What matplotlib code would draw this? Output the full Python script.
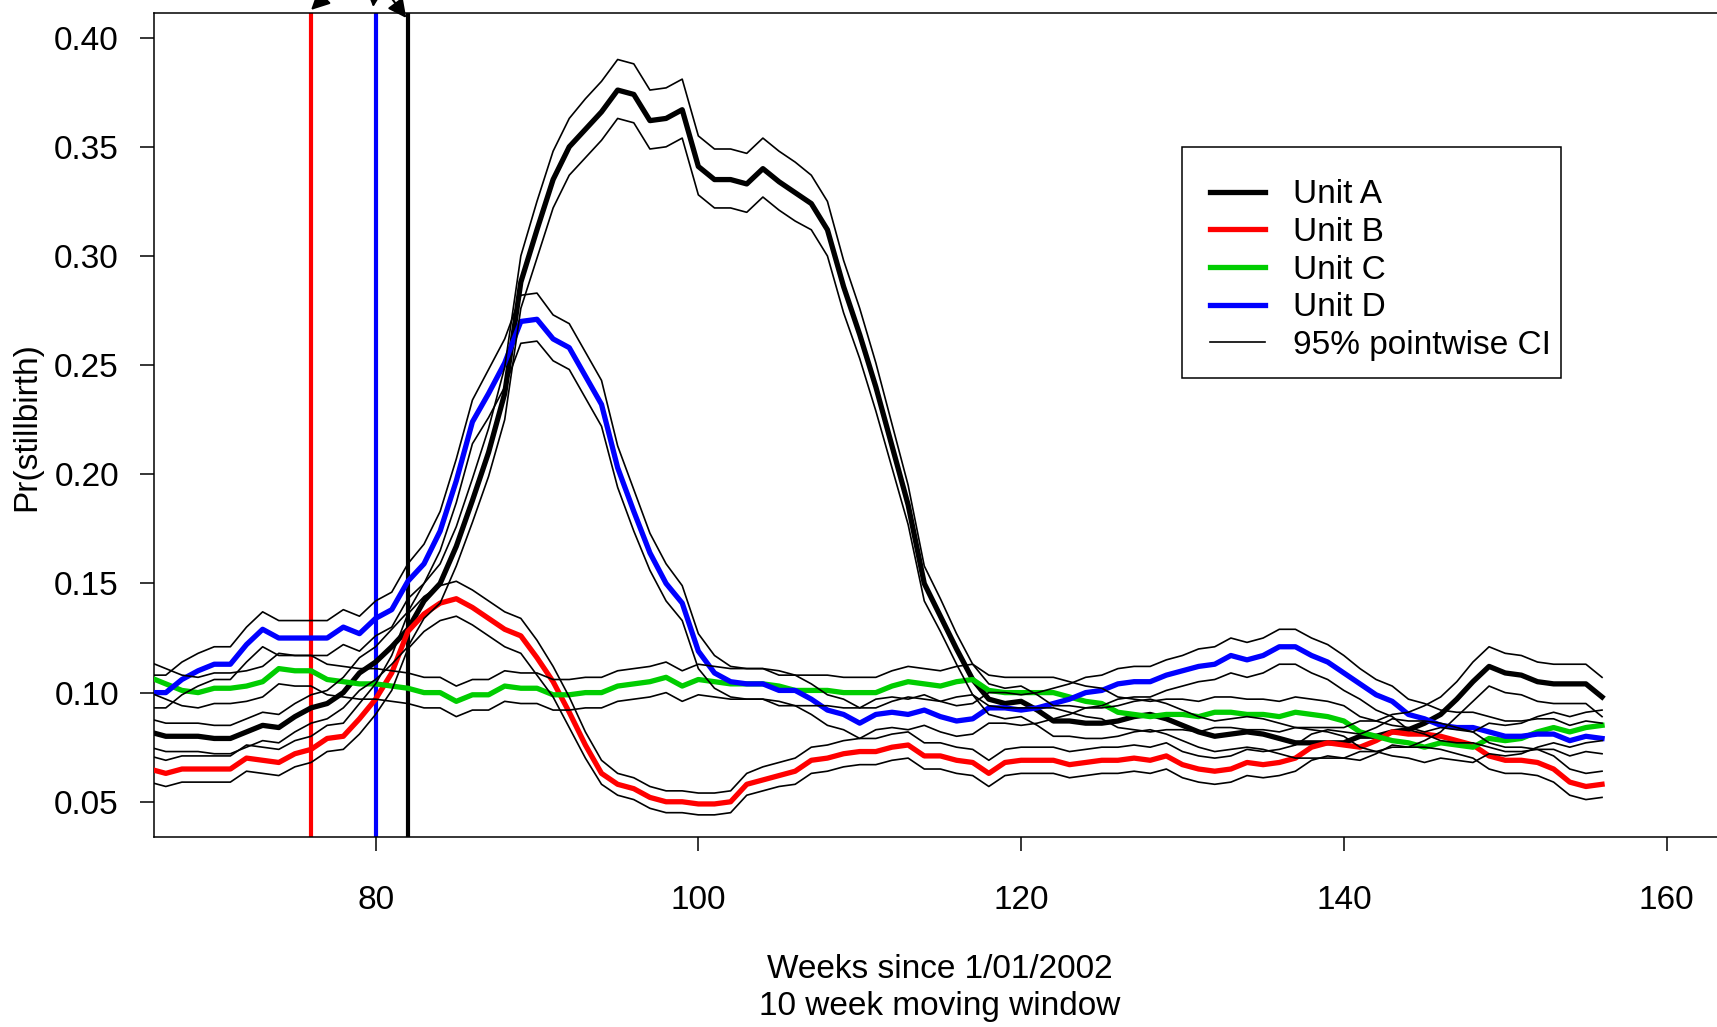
import matplotlib
matplotlib.use("Agg")
import matplotlib.pyplot as plt
from matplotlib.lines import Line2D
from matplotlib.patches import Rectangle

plt.rcParams['font.family'] = ['Liberation Sans', 'DejaVu Sans']

weeks = list(range(66, 157))

# Unit A (estimate, upper and lower 95% limits)
unit_a = [0.082, 0.080, 0.080, 0.080, 0.079, 0.079, 0.082, 0.085, 0.084, 0.089,
          0.093, 0.095, 0.100, 0.109, 0.114, 0.121, 0.129, 0.142, 0.150, 0.167,
          0.188, 0.210, 0.237, 0.288, 0.312, 0.335, 0.350, 0.358, 0.366, 0.376,
          0.374, 0.362, 0.363, 0.367, 0.341, 0.335, 0.335, 0.333, 0.340, 0.334,
          0.329, 0.324, 0.312, 0.286, 0.264, 0.240, 0.213, 0.186, 0.150, 0.135,
          0.120, 0.106, 0.097, 0.095, 0.096, 0.092, 0.087, 0.087, 0.086, 0.086,
          0.087, 0.089, 0.090, 0.088, 0.085, 0.082, 0.080, 0.081, 0.082, 0.081,
          0.079, 0.077, 0.077, 0.077, 0.077, 0.080, 0.080, 0.082, 0.083, 0.086,
          0.090, 0.097, 0.105, 0.112, 0.109, 0.108, 0.105, 0.104, 0.104, 0.104,
          0.098]
unit_a_hi = [0.088, 0.086, 0.086, 0.086, 0.085, 0.085, 0.088, 0.091, 0.090, 0.095,
             0.099, 0.101, 0.107, 0.116, 0.121, 0.129, 0.137, 0.150, 0.159, 0.176,
             0.198, 0.221, 0.249, 0.300, 0.325, 0.348, 0.363, 0.372, 0.380, 0.390,
             0.388, 0.376, 0.377, 0.381, 0.355, 0.349, 0.349, 0.347, 0.354, 0.348,
             0.343, 0.337, 0.325, 0.298, 0.276, 0.251, 0.223, 0.195, 0.158, 0.143,
             0.127, 0.113, 0.104, 0.102, 0.103, 0.099, 0.094, 0.094, 0.093, 0.093,
             0.094, 0.096, 0.097, 0.095, 0.092, 0.089, 0.087, 0.088, 0.089, 0.088,
             0.086, 0.084, 0.084, 0.084, 0.084, 0.087, 0.087, 0.090, 0.091, 0.094,
             0.098, 0.105, 0.114, 0.121, 0.118, 0.117, 0.114, 0.113, 0.113, 0.113,
             0.107]
unit_a_lo = [0.075, 0.073, 0.073, 0.073, 0.072, 0.072, 0.075, 0.078, 0.077, 0.082,
             0.086, 0.088, 0.093, 0.101, 0.106, 0.113, 0.121, 0.134, 0.141, 0.158,
             0.178, 0.199, 0.225, 0.276, 0.299, 0.322, 0.337, 0.345, 0.353, 0.363,
             0.361, 0.349, 0.350, 0.354, 0.328, 0.322, 0.322, 0.320, 0.327, 0.321,
             0.316, 0.312, 0.300, 0.274, 0.253, 0.229, 0.203, 0.177, 0.142, 0.128,
             0.113, 0.099, 0.090, 0.088, 0.089, 0.085, 0.080, 0.080, 0.079, 0.079,
             0.080, 0.082, 0.083, 0.081, 0.078, 0.075, 0.073, 0.074, 0.075, 0.074,
             0.072, 0.070, 0.070, 0.070, 0.070, 0.073, 0.073, 0.075, 0.075, 0.078,
             0.082, 0.089, 0.096, 0.103, 0.100, 0.099, 0.096, 0.095, 0.095, 0.095,
             0.089]

# Unit B
unit_b = [0.065, 0.063, 0.065, 0.065, 0.065, 0.065, 0.070, 0.069, 0.068, 0.072,
          0.074, 0.079, 0.080, 0.088, 0.097, 0.109, 0.128, 0.136, 0.141, 0.143,
          0.139, 0.134, 0.129, 0.126, 0.116, 0.105, 0.091, 0.076, 0.063, 0.058,
          0.056, 0.052, 0.050, 0.050, 0.049, 0.049, 0.050, 0.058, 0.060, 0.062,
          0.064, 0.069, 0.070, 0.072, 0.073, 0.073, 0.075, 0.076, 0.071, 0.071,
          0.069, 0.068, 0.063, 0.068, 0.069, 0.069, 0.069, 0.067, 0.068, 0.069,
          0.069, 0.070, 0.069, 0.071, 0.067, 0.065, 0.064, 0.065, 0.068, 0.067,
          0.068, 0.070, 0.075, 0.077, 0.076, 0.075, 0.078, 0.082, 0.081, 0.081,
          0.080, 0.078, 0.076, 0.071, 0.069, 0.069, 0.068, 0.065, 0.059, 0.057,
          0.058]
unit_b_hi = [0.071, 0.069, 0.071, 0.071, 0.071, 0.071, 0.076, 0.075, 0.074, 0.078,
             0.080, 0.085, 0.086, 0.095, 0.104, 0.117, 0.136, 0.144, 0.149, 0.151,
             0.147, 0.142, 0.137, 0.134, 0.124, 0.112, 0.098, 0.082, 0.069, 0.063,
             0.061, 0.057, 0.055, 0.055, 0.054, 0.054, 0.055, 0.063, 0.066, 0.068,
             0.070, 0.075, 0.076, 0.078, 0.079, 0.079, 0.081, 0.082, 0.077, 0.077,
             0.075, 0.074, 0.069, 0.074, 0.075, 0.075, 0.075, 0.073, 0.074, 0.075,
             0.075, 0.076, 0.075, 0.077, 0.073, 0.071, 0.070, 0.071, 0.074, 0.073,
             0.074, 0.076, 0.081, 0.083, 0.082, 0.081, 0.084, 0.088, 0.087, 0.087,
             0.086, 0.084, 0.082, 0.077, 0.075, 0.075, 0.074, 0.071, 0.065, 0.063,
             0.064]
unit_b_lo = [0.059, 0.057, 0.059, 0.059, 0.059, 0.059, 0.064, 0.063, 0.062, 0.066,
             0.068, 0.073, 0.074, 0.081, 0.090, 0.101, 0.120, 0.128, 0.133, 0.135,
             0.131, 0.126, 0.121, 0.118, 0.108, 0.098, 0.084, 0.070, 0.058, 0.053,
             0.051, 0.047, 0.045, 0.045, 0.044, 0.044, 0.045, 0.053, 0.055, 0.057,
             0.058, 0.063, 0.064, 0.066, 0.067, 0.067, 0.069, 0.070, 0.065, 0.065,
             0.063, 0.062, 0.057, 0.062, 0.063, 0.063, 0.063, 0.061, 0.062, 0.063,
             0.063, 0.064, 0.063, 0.065, 0.061, 0.059, 0.058, 0.059, 0.062, 0.061,
             0.062, 0.064, 0.069, 0.071, 0.070, 0.069, 0.072, 0.076, 0.075, 0.075,
             0.074, 0.072, 0.070, 0.065, 0.063, 0.063, 0.062, 0.059, 0.053, 0.051,
             0.052]

# Unit C
unit_c = [0.107, 0.104, 0.101, 0.100, 0.102, 0.102, 0.103, 0.105, 0.111, 0.110,
          0.110, 0.106, 0.105, 0.104, 0.104, 0.103, 0.102, 0.100, 0.100, 0.096,
          0.099, 0.099, 0.103, 0.102, 0.102, 0.099, 0.099, 0.100, 0.100, 0.103,
          0.104, 0.105, 0.107, 0.103, 0.106, 0.105, 0.104, 0.104, 0.104, 0.103,
          0.101, 0.101, 0.101, 0.100, 0.100, 0.100, 0.103, 0.105, 0.104, 0.103,
          0.105, 0.106, 0.101, 0.100, 0.100, 0.100, 0.100, 0.098, 0.096, 0.095,
          0.091, 0.090, 0.089, 0.090, 0.090, 0.089, 0.091, 0.091, 0.090, 0.090,
          0.089, 0.091, 0.090, 0.089, 0.087, 0.082, 0.080, 0.078, 0.077, 0.075,
          0.077, 0.076, 0.075, 0.079, 0.078, 0.079, 0.082, 0.084, 0.082, 0.084,
          0.085]
unit_c_hi = [0.114, 0.111, 0.108, 0.107, 0.109, 0.109, 0.110, 0.112, 0.118, 0.117,
             0.117, 0.113, 0.112, 0.111, 0.111, 0.110, 0.109, 0.107, 0.107, 0.103,
             0.106, 0.106, 0.110, 0.109, 0.109, 0.106, 0.106, 0.107, 0.107, 0.110,
             0.111, 0.112, 0.114, 0.110, 0.113, 0.112, 0.111, 0.111, 0.111, 0.110,
             0.108, 0.108, 0.108, 0.107, 0.107, 0.107, 0.110, 0.112, 0.111, 0.110,
             0.112, 0.113, 0.108, 0.107, 0.107, 0.107, 0.107, 0.105, 0.103, 0.102,
             0.098, 0.097, 0.096, 0.097, 0.097, 0.096, 0.098, 0.098, 0.097, 0.097,
             0.096, 0.098, 0.097, 0.096, 0.094, 0.089, 0.087, 0.085, 0.084, 0.082,
             0.084, 0.083, 0.082, 0.086, 0.085, 0.086, 0.089, 0.091, 0.089, 0.091,
             0.092]
unit_c_lo = [0.100, 0.097, 0.094, 0.093, 0.095, 0.095, 0.096, 0.098, 0.104, 0.103,
             0.103, 0.099, 0.098, 0.097, 0.097, 0.096, 0.095, 0.093, 0.093, 0.089,
             0.092, 0.092, 0.096, 0.095, 0.095, 0.092, 0.092, 0.093, 0.093, 0.096,
             0.097, 0.098, 0.100, 0.096, 0.099, 0.098, 0.097, 0.097, 0.097, 0.096,
             0.094, 0.094, 0.094, 0.093, 0.093, 0.093, 0.096, 0.098, 0.097, 0.096,
             0.098, 0.099, 0.094, 0.093, 0.093, 0.093, 0.093, 0.091, 0.089, 0.088,
             0.084, 0.083, 0.082, 0.083, 0.083, 0.082, 0.084, 0.084, 0.083, 0.083,
             0.082, 0.084, 0.083, 0.082, 0.080, 0.075, 0.073, 0.071, 0.070, 0.068,
             0.070, 0.069, 0.068, 0.072, 0.071, 0.072, 0.075, 0.077, 0.075, 0.077,
             0.078]

# Unit D
unit_d = [0.100, 0.100, 0.106, 0.110, 0.113, 0.113, 0.122, 0.129, 0.125, 0.125,
          0.125, 0.125, 0.130, 0.127, 0.134, 0.138, 0.151, 0.159, 0.174, 0.197,
          0.224, 0.237, 0.251, 0.270, 0.271, 0.262, 0.258, 0.245, 0.232, 0.203,
          0.183, 0.164, 0.150, 0.141, 0.119, 0.109, 0.105, 0.104, 0.104, 0.101,
          0.101, 0.097, 0.092, 0.090, 0.086, 0.090, 0.091, 0.090, 0.092, 0.089,
          0.087, 0.088, 0.093, 0.093, 0.092, 0.093, 0.095, 0.097, 0.100, 0.101,
          0.104, 0.105, 0.105, 0.108, 0.110, 0.112, 0.113, 0.117, 0.115, 0.117,
          0.121, 0.121, 0.117, 0.114, 0.109, 0.104, 0.099, 0.096, 0.090, 0.088,
          0.085, 0.084, 0.084, 0.082, 0.080, 0.080, 0.081, 0.081, 0.078, 0.080,
          0.079]
unit_d_hi = [0.108, 0.108, 0.114, 0.118, 0.121, 0.121, 0.130, 0.137, 0.133, 0.133,
             0.133, 0.133, 0.138, 0.135, 0.142, 0.146, 0.159, 0.168, 0.183, 0.207,
             0.234, 0.248, 0.262, 0.282, 0.283, 0.273, 0.269, 0.256, 0.243, 0.213,
             0.193, 0.173, 0.159, 0.149, 0.127, 0.117, 0.112, 0.111, 0.111, 0.108,
             0.108, 0.104, 0.099, 0.097, 0.093, 0.097, 0.098, 0.097, 0.099, 0.096,
             0.094, 0.095, 0.100, 0.100, 0.099, 0.100, 0.102, 0.104, 0.107, 0.108,
             0.111, 0.112, 0.112, 0.115, 0.117, 0.120, 0.121, 0.125, 0.123, 0.125,
             0.129, 0.129, 0.125, 0.122, 0.117, 0.111, 0.106, 0.103, 0.097, 0.095,
             0.092, 0.091, 0.091, 0.089, 0.087, 0.087, 0.088, 0.088, 0.085, 0.087,
             0.086]
unit_d_lo = [0.093, 0.093, 0.099, 0.103, 0.106, 0.106, 0.114, 0.121, 0.117, 0.117,
             0.117, 0.117, 0.122, 0.119, 0.126, 0.130, 0.143, 0.150, 0.165, 0.187,
             0.214, 0.226, 0.240, 0.260, 0.261, 0.252, 0.248, 0.235, 0.222, 0.194,
             0.174, 0.156, 0.142, 0.133, 0.111, 0.102, 0.098, 0.097, 0.097, 0.094,
             0.094, 0.090, 0.085, 0.083, 0.079, 0.083, 0.084, 0.083, 0.085, 0.082,
             0.080, 0.081, 0.086, 0.086, 0.085, 0.086, 0.088, 0.090, 0.093, 0.094,
             0.097, 0.098, 0.098, 0.101, 0.103, 0.105, 0.106, 0.109, 0.107, 0.109,
             0.113, 0.113, 0.109, 0.106, 0.101, 0.097, 0.092, 0.089, 0.083, 0.081,
             0.078, 0.077, 0.077, 0.075, 0.073, 0.073, 0.074, 0.074, 0.071, 0.073,
             0.072]

unit_names = ['Unit A', 'Unit B', 'Unit C', 'Unit D']
unit_colors = ['black', '#FF0000', '#00CD00', '#0000FF']
change_weeks = [76, 80, 82]
change_colors = ['#FF0000', '#0000FF', 'black']

x_ticks = [80, 100, 120, 140, 160]
y_ticks = [0.05, 0.10, 0.15, 0.20, 0.25, 0.30, 0.35, 0.40]
y_tick_labels = ['0.05', '0.10', '0.15', '0.20', '0.25', '0.30', '0.35', '0.40']

fig = plt.figure(figsize=(17.17, 10.27), dpi=100)
# right edge of the plot box sits just outside the picture, as in the original
ax = fig.add_axes([0.08952, 0.18530, 0.91514, 0.80205])

for wk, col in zip(change_weeks, change_colors):
    ax.axvline(wk, color=col, lw=3, zorder=1)

series = [(unit_a, unit_a_hi, unit_a_lo), (unit_b, unit_b_hi, unit_b_lo),
          (unit_c, unit_c_hi, unit_c_lo), (unit_d, unit_d_hi, unit_d_lo)]
for (mid, hi, lo), col in zip(series, unit_colors):
    ax.plot(weeks, mid, color=col, lw=3.8, solid_joinstyle='round', zorder=3)
    ax.plot(weeks, hi, color='black', lw=1.2, zorder=4)
    ax.plot(weeks, lo, color='black', lw=1.2, zorder=4)

ax.set_xlim(66.25, 163.62)
ax.set_ylim(0.034, 0.4113)
ax.set_xticks(x_ticks)
ax.set_yticks(y_ticks)
ax.set_yticklabels(y_tick_labels)
ax.tick_params(axis='both', labelsize=24, length=10, width=1.1, direction='out')
ax.tick_params(axis='x', pad=25)
ax.tick_params(axis='y', pad=15)
for sp in ax.spines.values():
    sp.set_linewidth(1.1)

# arrows from the (cropped) annotations above the plot
arrow_kw = dict(arrowstyle='-|>', color='black', lw=1.5, mutation_scale=28,
                shrinkA=0, shrinkB=0)
ax.annotate('', xy=(76.0, 0.4127), xytext=(80.5, 0.445), arrowprops=arrow_kw,
            annotation_clip=False)
ax.annotate('', xy=(79.85, 0.4140), xytext=(80.3, 0.450), arrowprops=arrow_kw,
            annotation_clip=False)
ax.annotate('', xy=(81.9, 0.4090), xytext=(78.8, 0.440), arrowprops=arrow_kw,
            annotation_clip=False)

# legend: entries without frame, box drawn separately (R-style tight box)
handles = [Line2D([], [], color=c, lw=3.8) for c in unit_colors]
handles.append(Line2D([], [], color='black', lw=1.2))
labels = unit_names + ['95% pointwise CI']
leg = fig.legend(handles, labels, loc='upper left', bbox_to_anchor=(0.7049, 0.8255),
                 bbox_transform=fig.transFigure, fontsize=24, frameon=False,
                 handlelength=1.65, handletextpad=0.83, labelspacing=0.2,
                 borderpad=0, borderaxespad=0)
fig.patches.append(Rectangle((0.6884, 0.6319), 0.2207, 0.2249, transform=fig.transFigure,
                             fill=False, edgecolor='black', lw=1.1))

fig.text(27 / 1717, 1 - 427 / 1027, 'Pr(stillbirth)', rotation=90,
         ha='center', va='center', fontsize=24)
# x label, nudged up a little so the second line is not clipped
fig.text(940 / 1717, 1 - 970 / 1027, 'Weeks since 1/01/2002',
         ha='center', va='center', fontsize=24)
fig.text(940 / 1717, 1 - 1006 / 1027, '10 week moving window',
         ha='center', va='center', fontsize=24)

fig.savefig('out.png', dpi=100)
